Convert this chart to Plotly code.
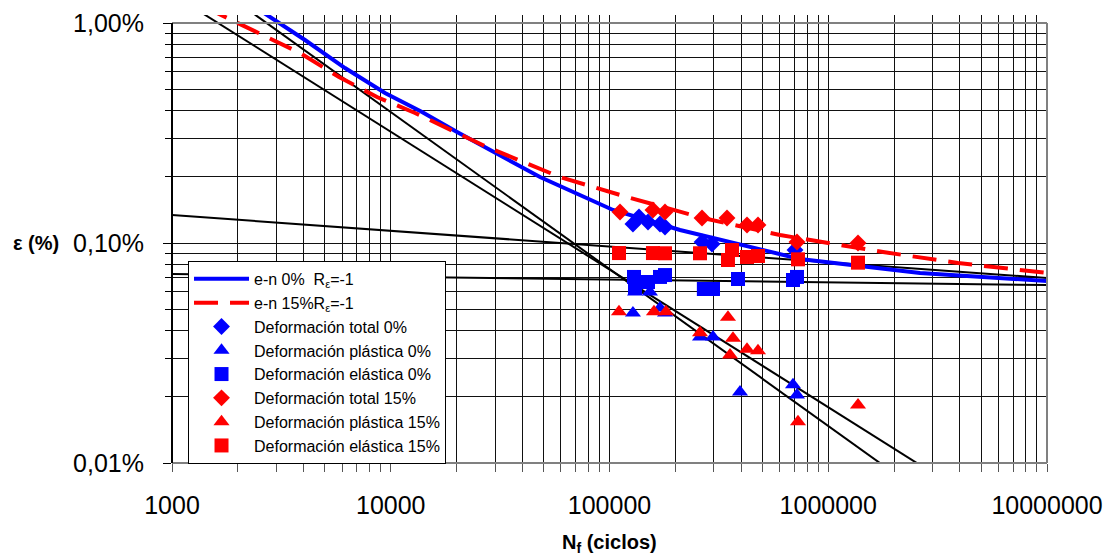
import plotly.graph_objects as go
import math

# ---- curves (N cycles, strain %) ----
N_en0 = [2400, 4055, 6178, 9413, 13900, 20090, 48110, 103800, 210100, 395000, 743000, 2627000, 10000000]
eps_en0 = [1.18, 0.837, 0.624, 0.481, 0.394, 0.3196, 0.1995, 0.1413, 0.1146, 0.0981, 0.0846, 0.0731, 0.0672]

N_en15 = [1415, 2396, 3847, 5800, 8652, 12910, 27540, 59370, 120200, 267600, 601900, 1780000, 3919000, 10000000]
eps_en15 = [1.18, 0.920, 0.7305, 0.568, 0.461, 0.390, 0.273, 0.1995, 0.1618, 0.1299, 0.1087, 0.0910, 0.0811, 0.0731]

# straight black component lines
N_lineA = [1300, 2627000]
eps_lineA = [1.149, 0.00979]
N_lineB = [2200, 1915000]
eps_lineB = [1.16, 0.00927]
N_lineC = [1000, 10000000]
eps_lineC = [0.134, 0.0693]
N_lineD = [1000, 10000000]
eps_lineD = [0.0723, 0.0644]

# ---- experimental points ----
N_tot0 = [128000, 136400, 150000, 170200, 179400, 265000, 294100, 704700]
eps_tot0 = [0.1220, 0.1313, 0.1246, 0.1220, 0.1183, 0.1010, 0.0990, 0.0929]

N_pla0 = [128000, 130800, 153100, 170200, 179400, 259300, 297200, 395000, 690000, 719600]
eps_pla0 = [0.0481, 0.0599, 0.0599, 0.0506, 0.0481, 0.0374, 0.0374, 0.0210, 0.0227, 0.0204]

N_ela0 = [129400, 130800, 150000, 170200, 179400, 270000, 297200, 386800, 690000, 719600]
eps_ela0 = [0.0701, 0.0625, 0.0665, 0.0701, 0.0715, 0.0618, 0.0618, 0.0686, 0.0679, 0.0701]

N_tot15 = [111700, 158000, 179400, 264800, 344500, 425200, 477300, 719600, 1368000]
eps_tot15 = [0.1383, 0.1413, 0.1383, 0.1299, 0.1299, 0.1207, 0.1207, 0.1010, 0.1000]

N_pla15 = [110500, 159700, 181300, 259300, 348000, 366900, 355500, 425200, 477300, 727200, 1368000]
eps_pla15 = [0.0487, 0.0487, 0.0487, 0.0391, 0.0460, 0.0369, 0.0310, 0.0329, 0.0324, 0.0154, 0.01835]

N_ela15 = [110500, 158000, 179400, 259300, 348000, 363100, 425200, 477300, 727200, 1368000]
eps_ela15 = [0.0900, 0.0900, 0.0898, 0.0898, 0.0837, 0.0929, 0.0864, 0.0873, 0.0843, 0.0814]

x_tickvals = [1000, 10000, 100000, 1000000, 10000000]
x_ticktext = ["1000", "10000", "100000", "1000000", "10000000"]
y_tickvals = [0.01, 0.1, 1]
y_ticktext = ["0,01%", "0,10%", "1,00%"]

BLUE = "#0000FF"
RED = "#FF0000"
FONT = "Arial, Liberation Sans, sans-serif"

fig = go.Figure()

for nx, ey in [(N_lineA, eps_lineA), (N_lineB, eps_lineB), (N_lineC, eps_lineC), (N_lineD, eps_lineD)]:
    fig.add_trace(go.Scatter(x=nx, y=ey, mode="lines", line=dict(color="black", width=2),
                             showlegend=False, hoverinfo="skip"))

fig.add_trace(go.Scatter(x=N_en0, y=eps_en0, mode="lines", name="e-n 0%  R<sub>ε</sub>=-1",
                         line=dict(color=BLUE, width=4), legendgroup="a"))
fig.add_trace(go.Scatter(x=N_en15, y=eps_en15, mode="lines", name="e-n 15%R<sub>ε</sub>=-1",
                         line=dict(color=RED, width=4, dash="24px,12px"), legendgroup="b"))

mk = [
    (N_tot0, eps_tot0, "Deformación total 0%", BLUE, "diamond", 13),
    (N_pla0, eps_pla0, "Deformación plástica 0%", BLUE, "triangle-up", 14),
    (N_ela0, eps_ela0, "Deformación elástica 0%", BLUE, "square", 14),
    (N_tot15, eps_tot15, "Deformación total 15%", RED, "diamond", 13),
    (N_pla15, eps_pla15, "Deformación plástica 15%", RED, "triangle-up", 14),
    (N_ela15, eps_ela15, "Deformación elástica 15%", RED, "square", 14),
]
for i, (nx, ey, name, col, sym, sz) in enumerate(mk):
    fig.add_trace(go.Scatter(x=nx, y=ey, mode="markers", name=name,
                             marker=dict(color=col, symbol=sym, size=sz, line=dict(width=0)),
                             legendgroup="m%d" % i))

ymin, ymax = -2.0, 0.0364
ytop = (0 - ymin) / (ymax - ymin)

fig.update_xaxes(type="log", range=[3, 7], tickvals=x_tickvals, ticktext=x_ticktext,
                 automargin=False,
                 showgrid=True, gridcolor="#111", gridwidth=1,
                 ticks="outside", ticklen=8, tickcolor="#555", ticklabelstandoff=12,
                 minor=dict(dtick="D1", showgrid=True, gridcolor="#111", gridwidth=1,
                            ticks="outside", ticklen=8, tickcolor="#555"),
                 showline=False, zeroline=False,
                 tickfont=dict(family=FONT, size=25, color="black"))
fig.update_yaxes(type="log", range=[ymin, ymax], tickvals=y_tickvals, ticktext=y_ticktext,
                 automargin=False,
                 showgrid=True, gridcolor="#111", gridwidth=1,
                 ticks="outside", ticklen=8, tickcolor="black", ticklabelstandoff=14,
                 minor=dict(dtick="D1", showgrid=True, gridcolor="#111", gridwidth=1,
                            ticks="outside", ticklen=6, tickcolor="black"),
                 showline=False, zeroline=False,
                 tickfont=dict(family=FONT, size=25, color="black"))

shapes = [
    dict(type="line", xref="paper", yref="paper", x0=0, x1=1, y0=ytop, y1=ytop,
         line=dict(color="#808080", width=2)),
    dict(type="line", xref="paper", yref="paper", x0=0, x1=1, y0=0, y1=0,
         line=dict(color="#808080", width=2)),
    dict(type="line", xref="paper", yref="paper", x0=1, x1=1, y0=0, y1=ytop,
         line=dict(color="#808080", width=2)),
    dict(type="line", xref="paper", yref="paper", x0=0, x1=0, y0=0, y1=ytop,
         line=dict(color="black", width=2)),
]

annotations = [
    dict(text="<b>ε (%)</b>", xref="paper", yref="paper", x=-0.155, y=(math.log10(0.1) - ymin) / (ymax - ymin),
         xanchor="center", yanchor="middle", showarrow=False,
         font=dict(family=FONT, size=20, color="black")),
    dict(text="<b>N<sub>f</sub> (ciclos)</b>", xref="paper", yref="paper", x=0.5, y=0,
         yshift=-80, xanchor="center", yanchor="middle", showarrow=False,
         font=dict(family=FONT, size=20, color="black")),
]

fig.update_layout(
    width=1107, height=556,
    margin=dict(l=172, r=60, t=15, b=93, autoexpand=False),
    paper_bgcolor="white", plot_bgcolor="white",
    shapes=shapes, annotations=annotations,
    showlegend=True,
    legend=dict(x=0.0183, y=0.451, xanchor="left", yanchor="top",
                bgcolor="white", bordercolor="black", borderwidth=1,
                font=dict(family=FONT, size=16, color="black"),
                traceorder="grouped", tracegroupgap=0, itemwidth=55),
)

fig.write_html("out.html", config={"displayModeBar": False},
               post_script="document.body.style.margin='0px';document.body.style.overflow='hidden';")
